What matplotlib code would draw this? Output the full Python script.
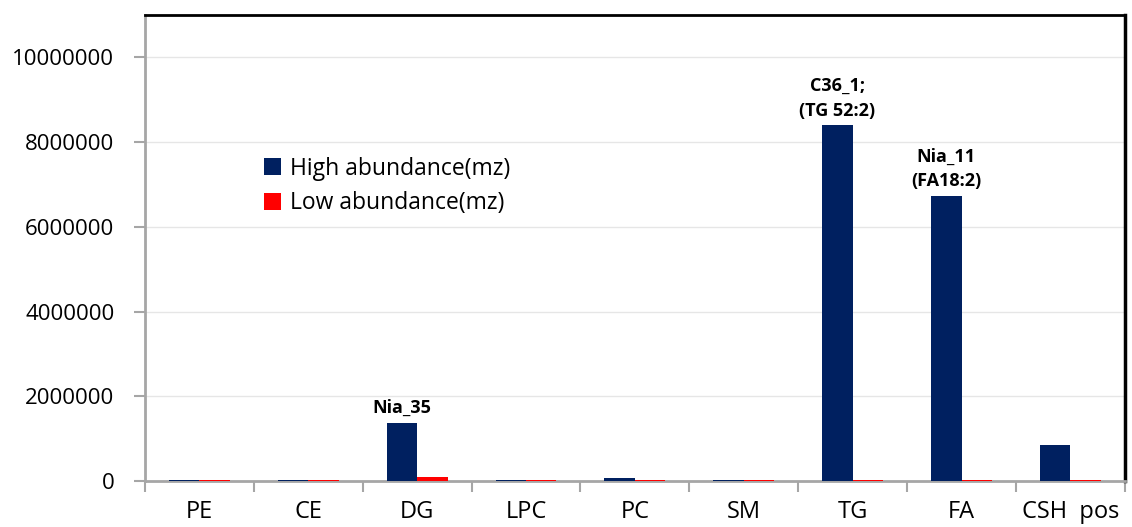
import numpy as np
import matplotlib
matplotlib.use("Agg")
import matplotlib.pyplot as plt

plt.rcParams["font.family"] = ["Open Sans", "DejaVu Sans"]

categories = ["PE", "CE", "DG", "LPC", "PC", "SM", "TG", "FA", "CSH  pos"]
high_abundance = [30000, 20000, 1380000, 20000, 80000, 15000, 8400000, 6730000, 850000]
low_abundance = [25000, 30000, 90000, 25000, 25000, 25000, 25000, 25000, 25000]
bar_notes = {2: "Nia_35", 6: "C36_1;\n(TG 52:2)", 7: "Nia_11\n(FA18:2)"}

navy = "#002060"
red = "#FF0000"
grey = "#A6A6A6"

fig = plt.figure(figsize=(11.32, 5.27), dpi=100)
ax = fig.add_axes([0.128, 0.0873, 0.8657, 0.8842])

x = np.arange(len(categories))
w = 0.28
ax.bar(x - w / 2, high_abundance, w, color=navy, label="High abundance(mz)", zorder=3)
ax.bar(x + w / 2, low_abundance, w, color=red, label="Low abundance(mz)", zorder=3)

for i, txt in bar_notes.items():
    ax.annotate(txt, (x[i] - w / 2, high_abundance[i]), xytext=(0, 4),
                textcoords="offset points", ha="center", va="bottom",
                fontsize=13, fontweight="bold", linespacing=1.45)

ax.set_xlim(-0.5, len(categories) - 0.5)
ax.set_ylim(0, 11000000)
ax.set_yticks(np.arange(0, 10000001, 2000000))
ax.set_yticklabels([str(v) for v in range(0, 10000001, 2000000)], fontsize=16)

ax.set_xticks(x)
ax.set_xticklabels(categories, fontsize=17)
ax.set_xticks(np.arange(-0.5, len(categories), 1), minor=True)
ax.tick_params(axis="x", which="major", length=0, pad=14)
ax.tick_params(axis="x", which="minor", length=8, width=1.5, color=grey)
ax.tick_params(axis="y", length=8, width=1.5, color=grey, pad=14)

ax.yaxis.grid(True, color="#E6E6E6", linewidth=1, zorder=0)
ax.set_axisbelow(True)

ax.spines["left"].set_color(grey)
ax.spines["left"].set_linewidth(2)
ax.spines["bottom"].set_color(grey)
ax.spines["bottom"].set_linewidth(2)
ax.spines["top"].set_color("black")
ax.spines["top"].set_linewidth(2)
ax.spines["right"].set_color("black")
ax.spines["right"].set_linewidth(2.5)

ax.legend(loc="upper left", bbox_to_anchor=(0.1, 0.74), frameon=False,
          fontsize=16.5, handlelength=0.75, handleheight=0.75, handletextpad=0.4,
          labelspacing=0.45)

fig.savefig("out.png", dpi=100)
